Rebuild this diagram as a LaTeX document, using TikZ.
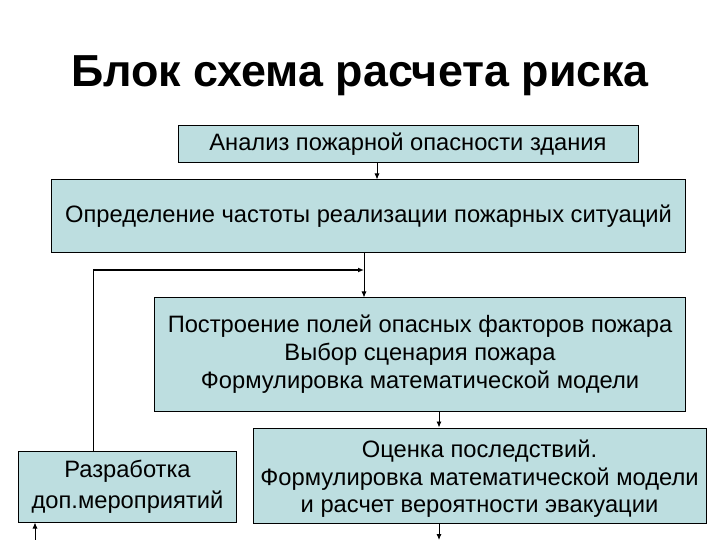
\documentclass[tikz,border=0pt]{standalone}
\usepackage{fontspec}
\setmainfont{Liberation Sans}
\usetikzlibrary{arrows.meta}
\definecolor{boxfill}{RGB}{189,222,224}
\tikzset{
  x=1bp, y=-1bp,
  blk/.style={draw=black, line width=1bp, fill=boxfill, inner sep=0pt, align=center,
    font=\fontsize{23.8}{28}\selectfont},
  arr/.style={line width=0.9bp, -{Latex[length=6bp,width=5bp]}},
  ln/.style={line width=0.9bp}
}
\begin{document}
\begin{tikzpicture}
\useasboundingbox (0,0) rectangle (720,540);
\node[font=\fontsize{45}{54}\selectfont\bfseries, anchor=base] (title) at (360,87) {Блок схема расчета риска};

\node[blk, minimum width=460bp, minimum height=37bp] (b1) at (408,144.5) {Анализ пожарной опасности здания};
\node[blk, minimum width=633bp, minimum height=72bp] (b2) at (368.5,216) {Определение частоты реализации пожарных ситуаций};
\node[blk, minimum width=530bp, minimum height=113bp] (b3) at (420,354.5) {Построение полей опасных факторов пожара\\Выбор сценария пожара\\Формулировка математической модели};
\node[blk, minimum width=217bp, minimum height=71bp, font=\fontsize{23.8}{31}\selectfont] (b4) at (127.5,486.5) {Разработка\\доп.мероприятий};
\node[blk, minimum width=453bp, minimum height=95bp] (b5) at (479.5,475.5) {\rule{0pt}{24bp}Оценка последствий.\\Формулировка математической модели\\и расчет вероятности эвакуации};

\coordinate (xa) at (377,0);
\coordinate (xb) at (364,0);
\coordinate (xc) at (439,0);
\coordinate (xd) at (35,0);
\coordinate (xf) at (93,0);
\coordinate (yf) at (0,270);
\coordinate (bot) at (0,540);

\draw[arr] (b1.south -| xa) -- (b2.north -| xa);
\draw[arr] (b2.south -| xb) -- (b3.north -| xb);
\draw[arr] (b3.south -| xc) -- (b5.north -| xc);
\draw[arr] (b5.south -| xc) -- (bot -| xc);
\draw[arr] (bot -| xd) -- (b4.south -| xd);
\draw[ln] (b4.north -| xf) -- (yf -| xf);
\draw[arr, line width=1.4bp] (yf -| xf) -- (yf -| xb);
\end{tikzpicture}
\end{document}
